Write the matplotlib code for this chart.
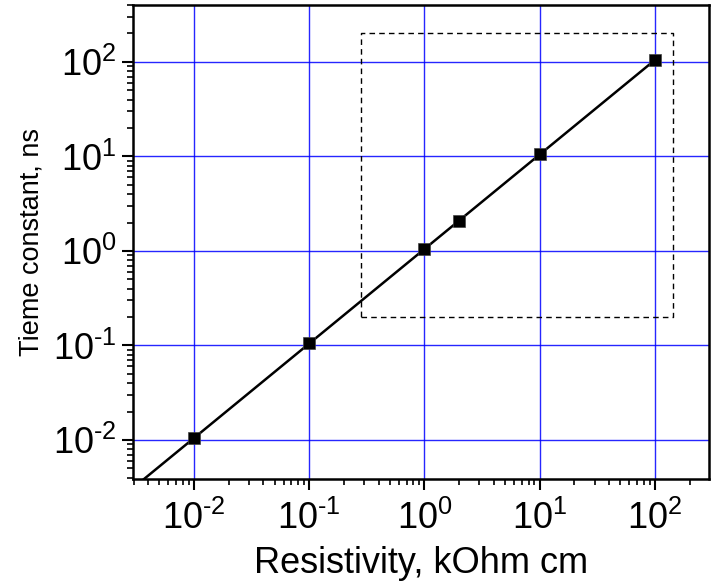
import matplotlib
matplotlib.use("Agg")
import matplotlib.pyplot as plt
from matplotlib.ticker import LogLocator, NullFormatter

plt.rcParams["font.family"] = ["Liberation Sans", "DejaVu Sans"]
plt.rcParams["mathtext.fontset"] = "custom"
plt.rcParams["mathtext.rm"] = "Liberation Sans"
plt.rcParams["mathtext.it"] = "Liberation Sans"

# Measured points (resistivity kOhm cm, time constant ns)
resistivity = [0.01, 0.1, 1.0, 2.0, 10.0, 100.0]
time_const = [0.0105, 0.105, 1.05, 2.1, 10.5, 105.0]

# Fitted line end points
fit_x = [0.0035, 100.0]
fit_y = [0.00367, 105.0]

# Dashed region of interest
box_x = [0.28, 143.0, 143.0, 0.28, 0.28]
box_y = [0.2, 0.2, 203.0, 203.0, 0.2]

decades = [0.01, 0.1, 1, 10, 100]
decade_labels = [r"10$^{\text{-}2}$", r"10$^{\text{-}1}$", "10$^{0}$", "10$^{1}$", "10$^{2}$"]

fig = plt.figure(figsize=(7.11, 5.86), dpi=100)
ax = fig.add_axes([133 / 711, 1 - 479 / 586, 576 / 711, 474 / 586])

ax.set_xscale("log")
ax.set_yscale("log")
ax.set_xlim(0.00296, 294)
ax.set_ylim(0.00387, 400)

ax.grid(True, which="major", color="#0000ff", lw=1.0, alpha=0.85)
ax.set_axisbelow(True)

ax.plot(box_x, box_y, color="black", lw=1, linestyle=(0, (4, 3)))
ax.plot(fit_x, fit_y, color="black", lw=1.8)
ax.plot(resistivity, time_const, linestyle="none", marker="s", ms=8.5,
        color="black", markeredgecolor="#444444", markeredgewidth=0.5)

ax.set_xticks(decades, decade_labels)
ax.set_yticks(decades, decade_labels)
ax.xaxis.set_minor_locator(LogLocator(base=10, subs=range(2, 10), numticks=20))
ax.yaxis.set_minor_locator(LogLocator(base=10, subs=range(2, 10), numticks=20))
ax.xaxis.set_minor_formatter(NullFormatter())
ax.yaxis.set_minor_formatter(NullFormatter())
ax.tick_params(which="major", direction="out", length=8, width=1.5, labelsize=26)
ax.tick_params(axis="x", which="major", pad=8)
ax.tick_params(axis="y", which="major", pad=4)
ax.tick_params(which="minor", direction="out", length=4, width=1.2)

for spine in ax.spines.values():
    spine.set_linewidth(1.8)

ax.set_xlabel("Resistivity, kOhm cm", fontsize=26, labelpad=6)
ax.set_ylabel("Tieme constant, ns", fontsize=19.5, labelpad=6)

fig.savefig("out.png", dpi=100)
